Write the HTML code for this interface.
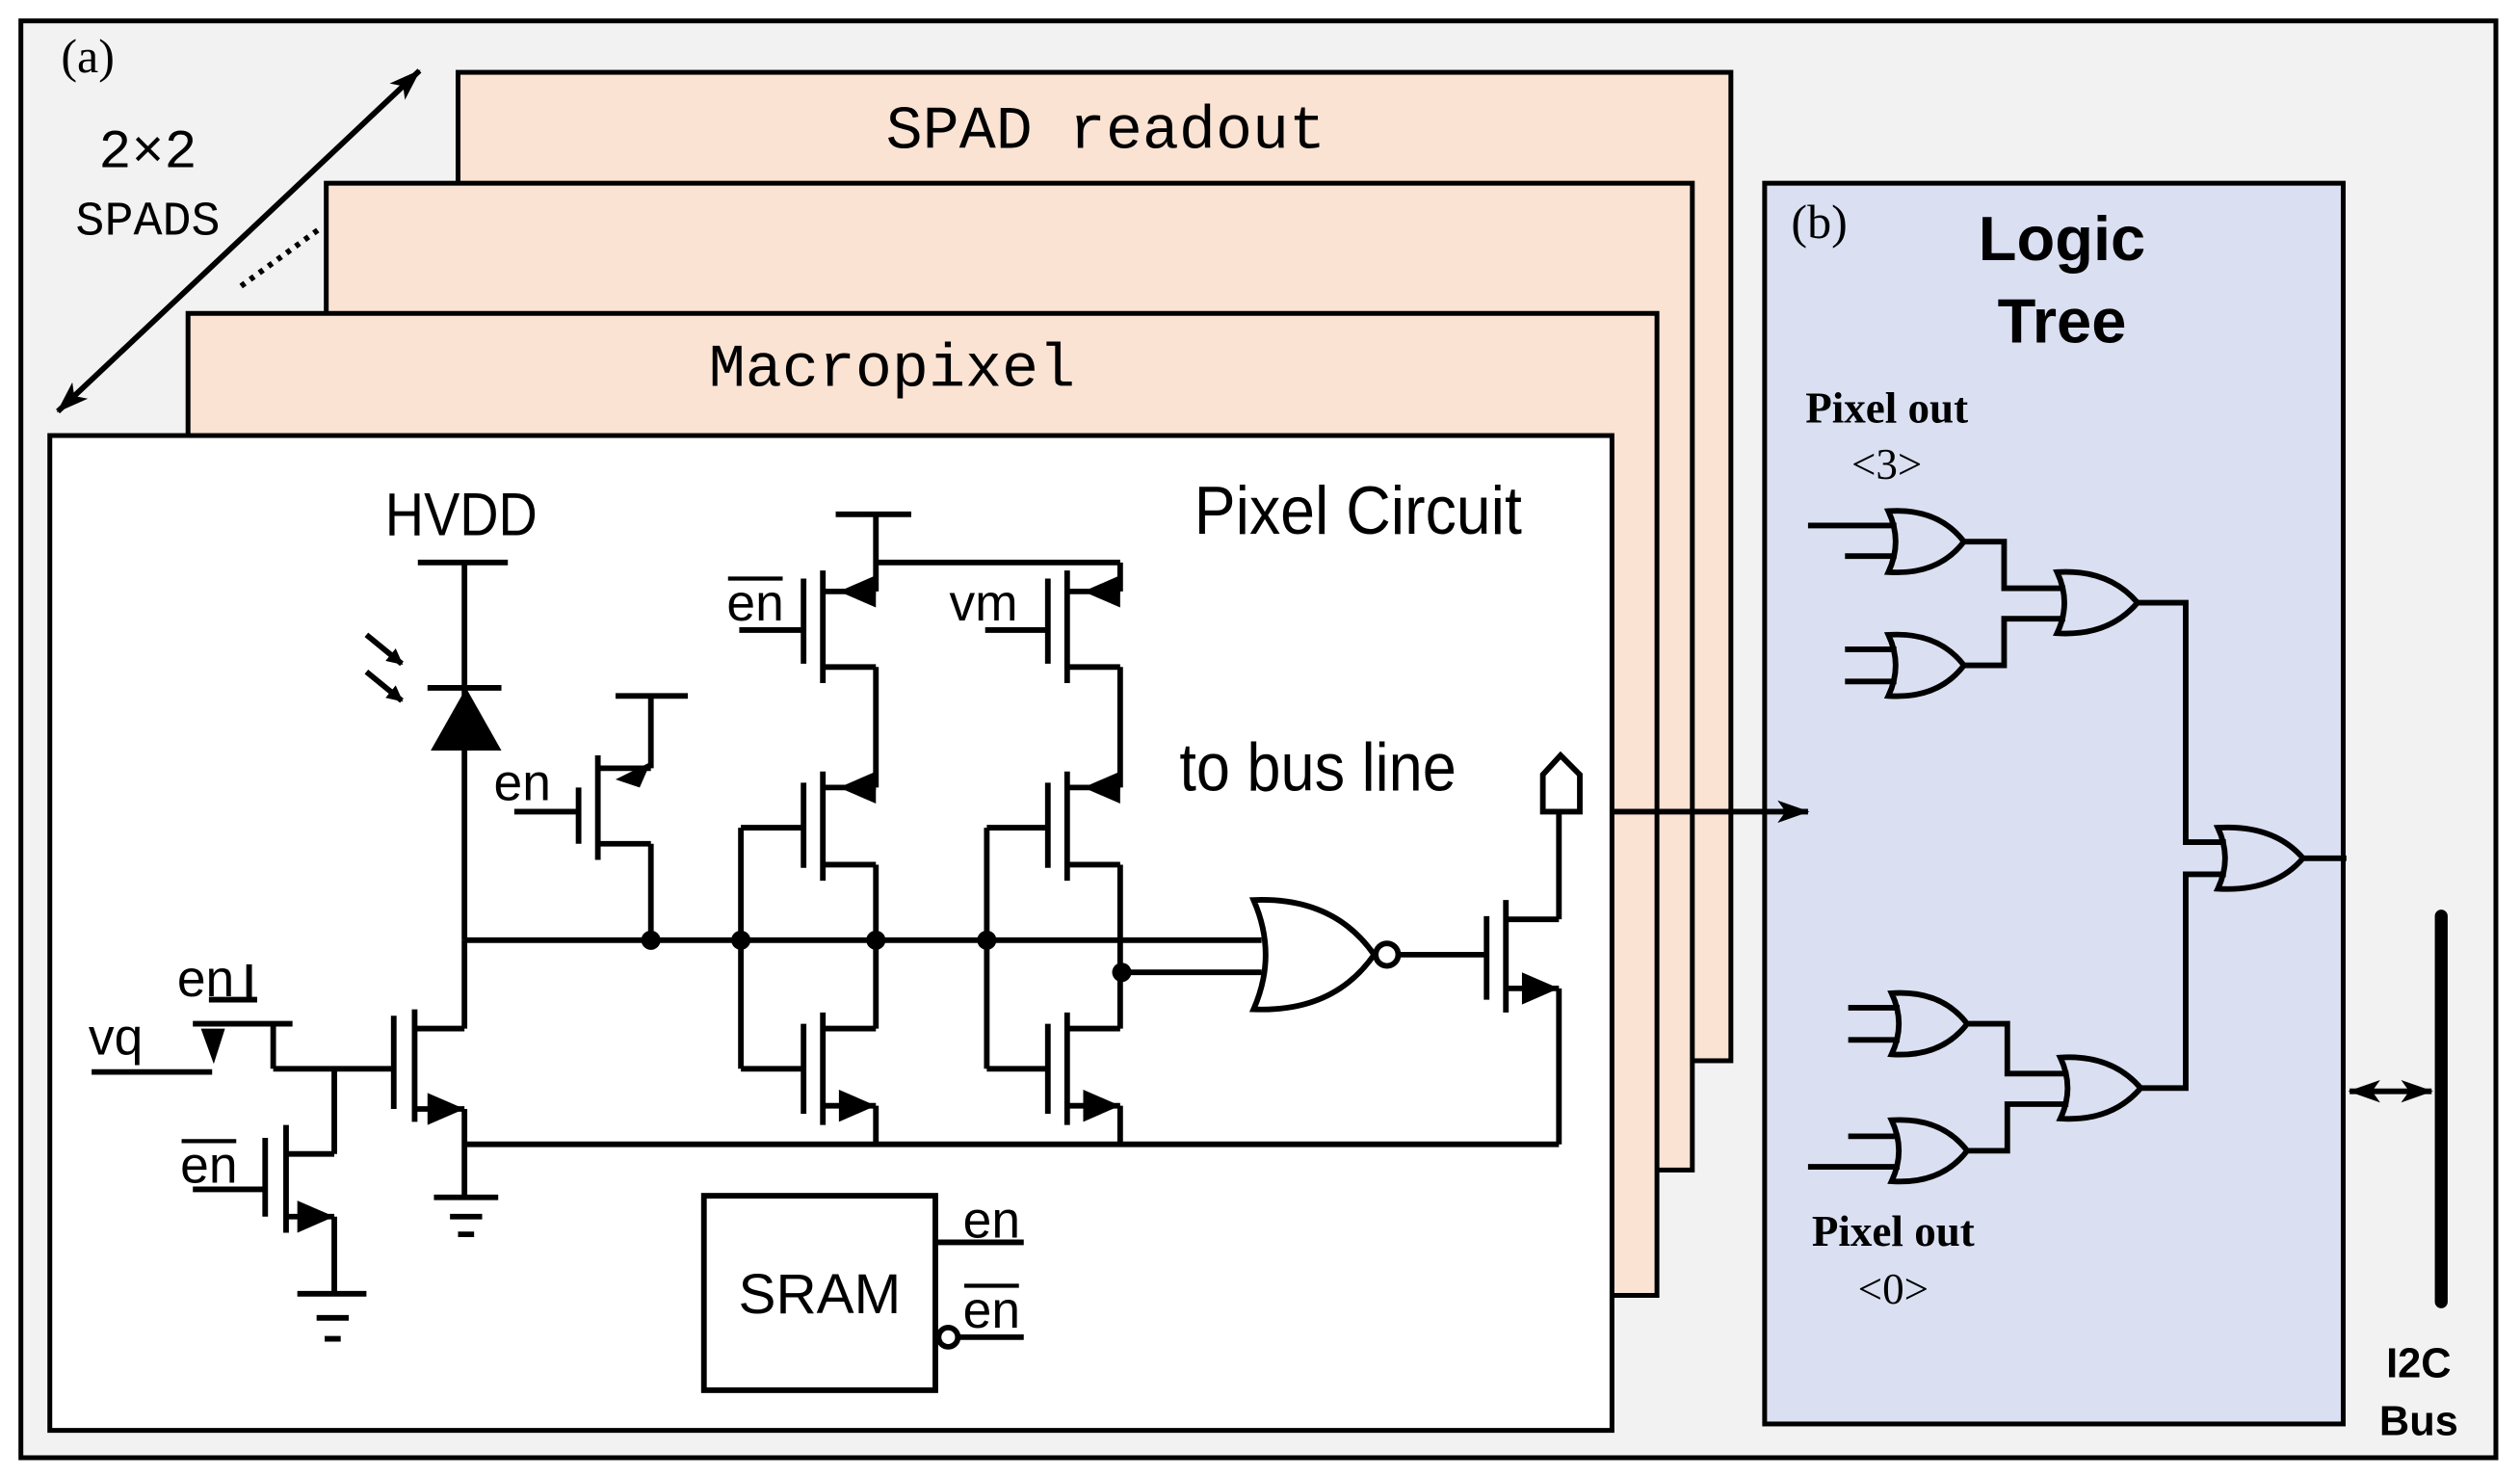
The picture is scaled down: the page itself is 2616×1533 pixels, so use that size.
<!DOCTYPE html>
<html><head><meta charset="utf-8"><style>
html,body{margin:0;padding:0;background:#fff;}
svg{display:block;}
.sans{font-family:"Liberation Sans",sans-serif;}
.mono{font-family:"Liberation Mono",monospace;}
.serif{font-family:"Liberation Serif",serif;}
</style></head><body>
<svg width="2616" height="1533" viewBox="0 0 1568 919" preserveAspectRatio="none" xmlns="http://www.w3.org/2000/svg">
<defs>
<marker id="ah" markerWidth="10" markerHeight="10" refX="9" refY="5" orient="auto" markerUnits="userSpaceOnUse"><path d="M0,0 L10,5 L0,10 Z" fill="#000"/></marker>
<marker id="bh" markerWidth="20" markerHeight="14" refX="19" refY="7" orient="auto" markerUnits="userSpaceOnUse"><path d="M0,0 L20,7 L0,14 L5,7 Z" fill="#000"/></marker>
<marker id="bhs" markerWidth="20" markerHeight="14" refX="1" refY="7" orient="auto" markerUnits="userSpaceOnUse"><path d="M20,0 L0,7 L20,14 L15,7 Z" fill="#000"/></marker>
</defs>
<rect x="0" y="0" width="1568" height="919" fill="#fff"/>
<rect x="13" y="13" width="1540" height="894" fill="#f2f2f2" stroke="#000" stroke-width="3"/>
<text x="38" y="45" class="serif" font-size="30">(a)</text>
<text x="92" y="104" class="mono" font-size="34" text-anchor="middle">2×2</text>
<text x="92" y="146" class="mono" font-size="30" text-anchor="middle">SPADS</text>
<line x1="36" y1="256" x2="261" y2="44" stroke="#000" stroke-width="3.5" marker-start="url(#bhs)" marker-end="url(#bh)"/>
<line x1="150" y1="178" x2="198" y2="143" stroke="#000" stroke-width="3.5" stroke-dasharray="3,4"/>

<rect x="285" y="45" width="792" height="615" fill="#fae3d3" stroke="#000" stroke-width="3"/>
<text x="688" y="92" class="mono" font-size="38" text-anchor="middle">SPAD readout</text>
<rect x="203" y="114" width="850" height="614" fill="#fae3d3" stroke="#000" stroke-width="3"/>
<rect x="117" y="195" width="914" height="611" fill="#fae3d3" stroke="#000" stroke-width="3"/>
<text x="555" y="240" class="mono" font-size="38" text-anchor="middle">Macropixel</text>
<rect x="31" y="271" width="972" height="619" fill="#fff" stroke="#000" stroke-width="3"/>

<text x="845" y="332" class="sans" font-size="42" text-anchor="middle" transform="translate(845,0) scale(0.92,1) translate(-845,0)">Pixel Circuit</text>
<text x="287" y="333" class="sans" font-size="38" text-anchor="middle" transform="translate(287,0) scale(0.88,1) translate(-287,0)">HVDD</text>
<text x="820" y="492" class="sans" font-size="42" text-anchor="middle" transform="translate(820,0) scale(0.9,1) translate(-820,0)">to bus line</text>

<g stroke="#000" stroke-width="3.5" fill="none">
<line x1="260" y1="350" x2="316" y2="350"/>
<line x1="289" y1="350" x2="289" y2="585"/>
<line x1="266" y1="428" x2="312" y2="428"/>
<line x1="228" y1="395" x2="250" y2="413" marker-end="url(#ah)"/>
<line x1="228" y1="418" x2="250" y2="436" marker-end="url(#ah)"/>
<line x1="289" y1="585" x2="785" y2="585"/>
<line x1="698" y1="605" x2="785" y2="605"/>
<line x1="383" y1="433" x2="428" y2="433"/>
<line x1="405" y1="433" x2="405" y2="478"/>
<line x1="372" y1="478" x2="405" y2="478"/>
<line x1="360" y1="490" x2="360" y2="525"/>
<line x1="372" y1="470" x2="372" y2="535"/>
<line x1="320" y1="505" x2="360" y2="505"/>
<line x1="372" y1="525" x2="405" y2="525"/>
<line x1="405" y1="525" x2="405" y2="585"/>
<line x1="245" y1="632" x2="245" y2="690"/>
<line x1="258" y1="628" x2="258" y2="698"/>
<line x1="258" y1="640" x2="289" y2="640"/>
<line x1="289" y1="640" x2="289" y2="585"/>
<line x1="258" y1="690" x2="289" y2="690"/>
<line x1="289" y1="690" x2="289" y2="745"/>
<line x1="270" y1="745" x2="310" y2="745"/>
<line x1="280" y1="757" x2="300" y2="757"/>
<line x1="285" y1="768" x2="295" y2="768"/>
<line x1="170" y1="665" x2="245" y2="665"/>
<line x1="57" y1="667" x2="132" y2="667"/>
<line x1="120" y1="637" x2="182" y2="637"/>
<line x1="130" y1="622" x2="160" y2="622"/>
<line x1="155" y1="600" x2="155" y2="622"/>
<line x1="170" y1="637" x2="170" y2="665"/>
<line x1="208" y1="665" x2="208" y2="718"/>
<line x1="178" y1="718" x2="208" y2="718"/>
<line x1="165" y1="708" x2="165" y2="757"/>
<line x1="178" y1="700" x2="178" y2="767"/>
<line x1="120" y1="740" x2="165" y2="740"/>
<line x1="178" y1="757" x2="208" y2="757"/>
<line x1="208" y1="757" x2="208" y2="805"/>
<line x1="185" y1="805" x2="228" y2="805"/>
<line x1="197" y1="820" x2="217" y2="820"/>
<line x1="202" y1="833" x2="212" y2="833"/>
<line x1="520" y1="320" x2="567" y2="320"/>
<line x1="545" y1="320" x2="545" y2="368"/>
<line x1="545" y1="350" x2="697" y2="350"/>
<line x1="697" y1="350" x2="697" y2="368"/>
<line x1="500" y1="360" x2="500" y2="413"/>
<line x1="512" y1="355" x2="512" y2="425"/>
<line x1="512" y1="368" x2="545" y2="368"/>
<line x1="460" y1="392" x2="500" y2="392"/>
<line x1="512" y1="415" x2="545" y2="415"/>
<line x1="545" y1="415" x2="545" y2="490"/>
<line x1="500" y1="487" x2="500" y2="540"/>
<line x1="512" y1="480" x2="512" y2="548"/>
<line x1="512" y1="490" x2="545" y2="490"/>
<line x1="512" y1="538" x2="545" y2="538"/>
<line x1="545" y1="538" x2="545" y2="640"/>
<line x1="461" y1="515" x2="500" y2="515"/>
<line x1="461" y1="515" x2="461" y2="665"/>
<line x1="461" y1="665" x2="500" y2="665"/>
<line x1="500" y1="637" x2="500" y2="693"/>
<line x1="512" y1="630" x2="512" y2="700"/>
<line x1="512" y1="640" x2="545" y2="640"/>
<line x1="512" y1="688" x2="545" y2="688"/>
<line x1="545" y1="688" x2="545" y2="712"/>
<line x1="652" y1="360" x2="652" y2="413"/>
<line x1="664" y1="355" x2="664" y2="425"/>
<line x1="664" y1="368" x2="697" y2="368"/>
<line x1="613" y1="392" x2="652" y2="392"/>
<line x1="664" y1="415" x2="697" y2="415"/>
<line x1="697" y1="415" x2="697" y2="490"/>
<line x1="652" y1="487" x2="652" y2="540"/>
<line x1="664" y1="480" x2="664" y2="548"/>
<line x1="664" y1="490" x2="697" y2="490"/>
<line x1="664" y1="538" x2="697" y2="538"/>
<line x1="697" y1="538" x2="697" y2="640"/>
<line x1="614" y1="515" x2="652" y2="515"/>
<line x1="614" y1="515" x2="614" y2="665"/>
<line x1="614" y1="665" x2="652" y2="665"/>
<line x1="652" y1="637" x2="652" y2="693"/>
<line x1="664" y1="630" x2="664" y2="700"/>
<line x1="664" y1="640" x2="697" y2="640"/>
<line x1="664" y1="688" x2="697" y2="688"/>
<line x1="697" y1="688" x2="697" y2="712"/>
<line x1="289" y1="712" x2="970" y2="712"/>
<path d="M780,560 Q795,594 780,628 Q830,630 855,594 Q830,558 780,560 Z"/>
<circle cx="863" cy="594" r="7"/>
<line x1="870" y1="594" x2="925" y2="594"/>
<line x1="925" y1="570" x2="925" y2="622"/>
<line x1="937" y1="560" x2="937" y2="630"/>
<line x1="937" y1="572" x2="970" y2="572"/>
<line x1="970" y1="572" x2="970" y2="505"/>
<path d="M960,505 L960,482 L971,470 L983,482 L983,505 Z"/>
<line x1="937" y1="615" x2="970" y2="615"/>
<line x1="970" y1="615" x2="970" y2="712"/>
<rect x="438" y="744" width="144" height="121"/>
<line x1="582" y1="773" x2="637" y2="773"/>
<circle cx="590" cy="832" r="6"/>
<line x1="596" y1="832" x2="637" y2="832"/>
</g>
<g fill="#000">
<path d="M268,467 L312,467 L290,428 Z"/>
<path d="M383,485 L405,474 L398,490 Z"/>
<path d="M522,368 L545,358 L545,378 Z"/>
<path d="M522,490 L545,480 L545,500 Z"/>
<path d="M674,368 L697,358 L697,378 Z"/>
<path d="M674,490 L697,480 L697,500 Z"/>
<path d="M545,688 L522,678 L522,698 Z"/>
<path d="M697,688 L674,678 L674,698 Z"/>
<path d="M289,690 L266,680 L266,700 Z"/>
<path d="M208,757 L185,747 L185,767 Z"/>
<path d="M970,615 L947,605 L947,625 Z"/>
<path d="M125,640 L140,640 L133,662 Z"/>
<circle cx="405" cy="585" r="6"/><circle cx="461" cy="585" r="6"/><circle cx="545" cy="585" r="6"/><circle cx="614" cy="585" r="6"/><circle cx="698" cy="605" r="6"/>
</g>
<g class="sans" font-size="32">
<text x="325" y="498" text-anchor="middle">en</text>
<text x="128" y="620" text-anchor="middle">en</text>
<text x="72" y="656" text-anchor="middle">vq</text>
<text x="130" y="736" text-anchor="middle">en</text>
<text x="470" y="386" text-anchor="middle">en</text>
<text x="612" y="386" text-anchor="middle">vm</text>
<text x="617" y="770" text-anchor="middle">en</text>
<text x="617" y="826" text-anchor="middle">en</text>
<text x="510" y="817" text-anchor="middle" font-size="35">SRAM</text>
</g>
<g stroke="#000" stroke-width="2.5">
<line x1="113" y1="710" x2="147" y2="710"/>
<line x1="453" y1="360" x2="487" y2="360"/>
<line x1="600" y1="800" x2="634" y2="800"/>
</g>

<rect x="1098" y="114" width="360" height="772" fill="#dae0f2" stroke="#000" stroke-width="3"/>
<line x1="1003" y1="505" x2="1125" y2="505" stroke="#000" stroke-width="3.5" marker-end="url(#bh)"/>
<text x="1132" y="148" class="serif" font-size="30" text-anchor="middle">(b)</text>
<text x="1283" y="162" class="sans" font-size="39" font-weight="bold" text-anchor="middle">Logic</text>
<text x="1283" y="213" class="sans" font-size="39" font-weight="bold" text-anchor="middle">Tree</text>
<text x="1174" y="263" class="serif" font-size="27" font-weight="bold" text-anchor="middle">Pixel out</text>
<text x="1174" y="298" class="serif" font-size="27" text-anchor="middle">&lt;3&gt;</text>
<text x="1178" y="775" class="serif" font-size="27" font-weight="bold" text-anchor="middle">Pixel out</text>
<text x="1178" y="811" class="serif" font-size="27" text-anchor="middle">&lt;0&gt;</text>
<g stroke="#000" stroke-width="3.5" fill="none">
<path d="M1175,318 Q1184,337 1175,356 Q1206,358 1222,337 Q1206,316 1175,318 Z"/>
<path d="M1175,395 Q1184,414 1175,433 Q1206,435 1222,414 Q1206,393 1175,395 Z"/>
<path d="M1280,356 Q1289,375 1280,394 Q1312,396 1330,375 Q1312,354 1280,356 Z"/>
<path d="M1380,515 Q1389,534 1380,553 Q1415,555 1433,534 Q1415,513 1380,515 Z"/>
<path d="M1177,618 Q1186,637 1177,656 Q1208,658 1224,637 Q1208,616 1177,618 Z"/>
<path d="M1177,697 Q1186,716 1177,735 Q1208,737 1224,716 Q1208,695 1177,697 Z"/>
<path d="M1282,658 Q1291,677 1282,696 Q1314,698 1332,677 Q1314,656 1282,658 Z"/>
<line x1="1125" y1="327" x2="1180" y2="327"/>
<line x1="1148" y1="346" x2="1180" y2="346"/>
<line x1="1148" y1="404" x2="1180" y2="404"/>
<line x1="1148" y1="424" x2="1180" y2="424"/>
<line x1="1150" y1="627" x2="1182" y2="627"/>
<line x1="1150" y1="647" x2="1182" y2="647"/>
<line x1="1150" y1="707" x2="1182" y2="707"/>
<line x1="1125" y1="726" x2="1182" y2="726"/>
<polyline points="1222,337 1247,337 1247,366 1285,366"/>
<polyline points="1222,414 1247,414 1247,385 1285,385"/>
<polyline points="1330,375 1360,375 1360,524 1385,524"/>
<polyline points="1224,637 1249,637 1249,668 1287,668"/>
<polyline points="1224,716 1249,716 1249,687 1287,687"/>
<polyline points="1332,677 1360,677 1360,544 1385,544"/>
<line x1="1433" y1="534" x2="1460" y2="534"/>
<line x1="1462" y1="679" x2="1513" y2="679" marker-start="url(#bhs)" marker-end="url(#bh)"/>
</g>
<line x1="1519" y1="570" x2="1519" y2="810" stroke="#000" stroke-width="8" stroke-linecap="round"/>
<text x="1505" y="857" class="sans" font-size="26" font-weight="bold" text-anchor="middle">I2C</text>
<text x="1505" y="893" class="sans" font-size="26" font-weight="bold" text-anchor="middle">Bus</text>
</svg>
</body></html>
